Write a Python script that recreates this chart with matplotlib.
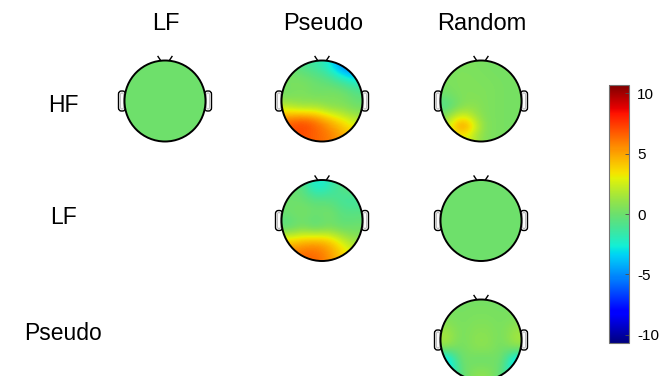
import numpy as np
import matplotlib
matplotlib.use("Agg")
import matplotlib.pyplot as plt
from matplotlib.patches import Circle, FancyBboxPatch
from matplotlib.colors import ListedColormap, Normalize
from matplotlib.colorbar import ColorbarBase

plt.rcParams["axes.unicode_minus"] = False

# Condition labels
col_labels = ["LF", "Pseudo", "Random"]
row_labels = ["HF", "LF", "Pseudo"]

# Scalp values sampled on regular grids (front of head at top row)
hf_lf = np.zeros((6, 6))
hf_pseudo = np.array([
    [ 0.0, -1.0, -1.5, -2.5, -5.5, -6.5],
    [ 0.5,  0.5,  0.0, -0.5, -1.5, -2.5],
    [ 0.0,  0.5,  0.0,  0.5,  0.5, -0.5],
    [ 2.0,  1.0,  1.5,  0.5,  0.5,  0.0],
    [ 6.5,  7.5,  6.5,  5.0,  3.5,  2.0],
    [ 7.0,  7.0,  6.5,  6.0,  5.0,  4.0],
])
hf_random = np.array([
    [ 0.4, 0.5, 0.5, 0.4, 0.3, 0.3, 0.3, 0.3],
    [ 0.5, 0.5, 0.5, 0.5, 0.4, 0.3, 0.3, 0.3],
    [ 0.4, 0.5, 0.6, 0.5, 0.5, 0.4, 0.3, 0.3],
    [ 0.0, 0.4, 0.6, 0.6, 0.5, 0.4, 0.3, 0.3],
    [-1.0, 0.0, 0.8, 0.8, 0.5, 0.4, 0.3, 0.3],
    [ 0.5, 2.2, 2.5, 1.2, 0.5, 0.4, 0.3, 0.3],
    [ 2.0, 5.0, 5.5, 2.5, 0.6, 0.4, 0.3, 0.3],
    [ 1.5, 3.0, 3.0, 1.5, 0.5, 0.4, 0.3, 0.3],
])
lf_pseudo = np.array([
    [ 0.0, -0.5, -3.0, -2.0, -0.5,  0.0],
    [ 0.0,  0.0, -0.5, -0.5, -1.5, -1.5],
    [ 0.0,  0.5,  0.0,  0.5, -0.5, -0.5],
    [-1.0,  0.0, -1.0,  0.0, -0.5,  0.0],
    [ 4.0,  4.5,  5.0,  4.5,  2.5,  1.0],
    [ 6.0,  6.5,  6.5,  5.5,  4.0,  2.5],
])
lf_random = np.zeros((6, 6))
pseudo_random = np.array([
    [ 0.3,  0.3,  0.3,  0.3,  0.3,  0.3],
    [ 0.5,  0.3,  0.5,  0.5,  0.3,  0.5],
    [ 1.5,  0.3,  0.8,  0.8,  0.3,  1.5],
    [ 1.5,  0.0,  1.0,  1.0,  0.0,  1.5],
    [-4.5,  0.5, -0.2, -0.2,  0.5, -4.5],
    [-3.0, -0.5,  1.0,  1.0, -0.5, -3.0],
])

# (row, col) -> map
maps = {
    (0, 0): hf_lf, (0, 1): hf_pseudo, (0, 2): hf_random,
    (1, 1): lf_pseudo, (1, 2): lf_random,
    (2, 2): pseudo_random,
}

clim = 10.7
cbar_ticks = [-10, -5, 0, 5, 10]

# jet with the green centre a little muted
t = np.linspace(0, 1, 256)
jet = plt.get_cmap("jet")(t)
jet[:, :3] *= (1 - 0.12 * np.exp(-((t - 0.5) / 0.15) ** 2))[:, None]
cmap = ListedColormap(jet)
norm = Normalize(-clim, clim)

W, H = 664, 376
fig = plt.figure(figsize=(W / 100, H / 100), dpi=100)
ax = fig.add_axes([0, 0, 1, 1])
ax.set_xlim(0, W)
ax.set_ylim(H, 0)
ax.axis("off")

col_x = [165, 322, 481]
row_y = [101, 220.5, 340]
r = 40.5

font = dict(family=["Liberation Sans", "DejaVu Sans"], color="black")

for (ri, ci), vals in maps.items():
    cx, cy = col_x[ci], row_y[ri]
    # ears
    for side in (-1, 1):
        ex = cx + side * (r + 2.5) - 3.5
        ear = FancyBboxPatch((ex, cy - 10), 7, 20,
                             boxstyle="round,pad=0,rounding_size=3",
                             fc="white", ec="black", lw=1.0, zorder=1)
        ax.add_patch(ear)
        inner = FancyBboxPatch((ex + 2, cy - 8), 3, 16,
                               boxstyle="round,pad=0,rounding_size=1.5",
                               fc="none", ec="0.75", lw=0.8, zorder=1.1)
        ax.add_patch(inner)
    # nose
    top = cy - r
    ax.plot([cx - 7, cx - 4], [top - 4, top + 0.5], color="black", lw=1.0, zorder=1)
    ax.plot([cx + 7, cx + 4], [top - 4, top + 0.5], color="black", lw=1.0, zorder=1)
    # scalp map
    im = ax.imshow(vals, cmap=cmap, norm=norm, interpolation="bicubic",
                   extent=(cx - r, cx + r, cy + r, cy - r), origin="upper",
                   aspect="auto", zorder=2)
    im.set_clip_path(Circle((cx, cy), r, transform=ax.transData))
    ax.add_patch(Circle((cx, cy), r, fill=False, ec="black", lw=1.4, zorder=3))

ax.set_xlim(0, W)
ax.set_ylim(H, 0)

for ci, lab in enumerate(col_labels):
    ax.text(col_x[ci] + 1, 24, lab, ha="center", va="center", fontsize=17, **font)
for ri, lab in enumerate(row_labels):
    ax.text(63, [106, 217, 334][ri], lab, ha="center", va="center", fontsize=16.5, **font)

cax = fig.add_axes([609 / W, 1 - 343 / H, 20 / W, 258 / H])
cb = ColorbarBase(cax, cmap=cmap, norm=norm, ticks=cbar_ticks)
cb.outline.set_edgecolor("0.45")
cb.outline.set_linewidth(0.8)
cax.tick_params(direction="in", length=3, width=0.6, color="0.3", labelsize=11, pad=6)
for lbl in cax.get_yticklabels():
    lbl.set_family(["Liberation Sans", "DejaVu Sans"])

fig.savefig("out.png", dpi=100)
